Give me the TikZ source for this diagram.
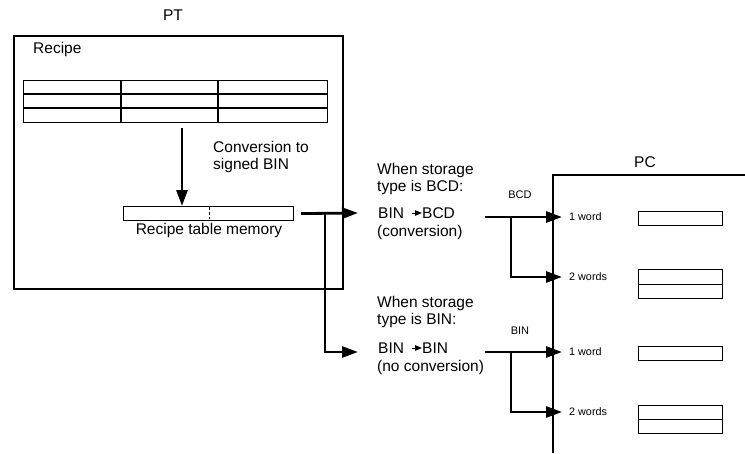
\documentclass[tikz,border=0pt]{standalone}
\usepackage{fontspec}
\setmainfont{Liberation Sans}
\usetikzlibrary{arrows.meta,calc}
\begin{document}
\begin{tikzpicture}[x=1pt,y=-1pt,
  frame/.style={draw,line width=1.5pt},
  cell/.style={draw,line width=1.1pt},
  flow/.style={line width=2.8pt,-{Triangle[length=16pt,width=11pt]}},
  txt/.style={font=\fontsize{15.5}{17}\selectfont,inner sep=0pt,anchor=west},
  big/.style={font=\fontsize{15.5}{17}\selectfont,inner sep=0pt},
  small/.style={font=\fontsize{10.8}{12}\selectfont,inner sep=0pt,anchor=west},
  tag/.style={font=\fontsize{11}{12}\selectfont,inner sep=0pt},
  mini/.style={line width=1pt,-{Triangle[length=7pt,width=5.5pt]}}]
\useasboundingbox (0,0) rectangle (745,453);

% PT frame
\node[big] (ptl) at (173,15) {PT};
\node[frame,anchor=north west,minimum width=329pt,minimum height=253pt,inner sep=0pt] (pt) at (13,35) {};
\node[txt] (recipe) at (33,49) {Recipe};

% recipe table
\node[cell,anchor=north west,minimum width=304pt,minimum height=42pt,inner sep=0pt] (tbl) at (23,80) {};
\draw[cell] (23,94) -- (327,94);
\draw[cell] (23,108) -- (327,108);
\draw[cell] (121,80) -- (121,122);
\draw[cell] (218,80) -- (218,122);

% conversion arrow
\coordinate (c0) at (182,128);
\node[cell,anchor=north west,minimum width=170pt,minimum height=14pt,inner sep=0pt] (mem) at (123,206) {};
\draw[line width=0.6pt,densely dashed] (209,207) -- (209,219);
\draw[flow] (c0) -- (c0 |- mem.north);
\node[txt,align=left] (conv) at (213,157) {Conversion to\\signed BIN};
\node[big] (memlbl) at (209,230) {Recipe table memory};

% split
\coordinate (s0) at ($(mem.east)+(7,0)$);
\coordinate (j1) at (325,213);
\coordinate (a1) at (358,213);
\coordinate (a2) at (358,352);
\draw[flow] (s0) -- (a1);
\draw[flow] (j1) |- (a2);

% BCD case texts
\node[txt,align=left] (w1) at (377,179) {When storage\\type is BCD:};
\node[txt] (bin1) at (378,213) {BIN};
\node[txt] (bcd1) at (422,213) {BCD};
\draw[mini] (412,213) -- (bcd1.west);
\node[txt] (cv1) at (377,232) {(conversion)};

% BIN case texts
\node[txt,align=left] (w2) at (377,312) {When storage\\type is BIN:};
\node[txt] (bin2) at (378,348) {BIN};
\node[txt] (bin3) at (422,348) {BIN};
\draw[mini] (412,348) -- (bin3.west);
\node[txt] (cv2) at (377,367) {(no conversion)};

% PC frame
\node[big] (pcl) at (645,162) {PC};
\coordinate (pctr) at (745,175);
\coordinate (pctl) at (553,175);
\coordinate (pcbl) at (553,453);
\draw[frame] (pctr) -- (pctl) -- (pcbl);

\node[tag] (tbcd) at (520,195) {BCD};
\node[tag] (tbin) at (520,331) {BIN};

% BCD branch
\coordinate (b0) at (485,217);
\coordinate (bj) at (511,217);
\coordinate (t1) at (562,217);
\coordinate (t2) at (562,277);
\draw[flow] (b0) -- (t1);
\draw[flow] (bj) |- (t2);

% BIN branch
\coordinate (n0) at (485,352);
\coordinate (nj) at (511,352);
\coordinate (t3) at (562,352);
\coordinate (t4) at (562,412);
\draw[flow] (n0) -- (t3);
\draw[flow] (nj) |- (t4);

% word labels
\node[small] (w1a) at (569,217) {1 word};
\node[small] (w2a) at (569,277) {2 words};
\node[small] (w1b) at (569,352) {1 word};
\node[small] (w2b) at (569,412) {2 words};

% word boxes
\node[cell,anchor=north west,minimum width=84pt,minimum height=14pt,inner sep=0pt] (m1) at (638,211) {};
\node[cell,anchor=north west,minimum width=84pt,minimum height=29pt,inner sep=0pt] (m2) at (638,269) {};
\draw[cell] (m2.west) -- (m2.east);
\node[cell,anchor=north west,minimum width=84pt,minimum height=14pt,inner sep=0pt] (m3) at (638,346) {};
\node[cell,anchor=north west,minimum width=84pt,minimum height=28pt,inner sep=0pt] (m4) at (638,405) {};
\draw[cell] (m4.west) -- (m4.east);
\end{tikzpicture}
\end{document}
